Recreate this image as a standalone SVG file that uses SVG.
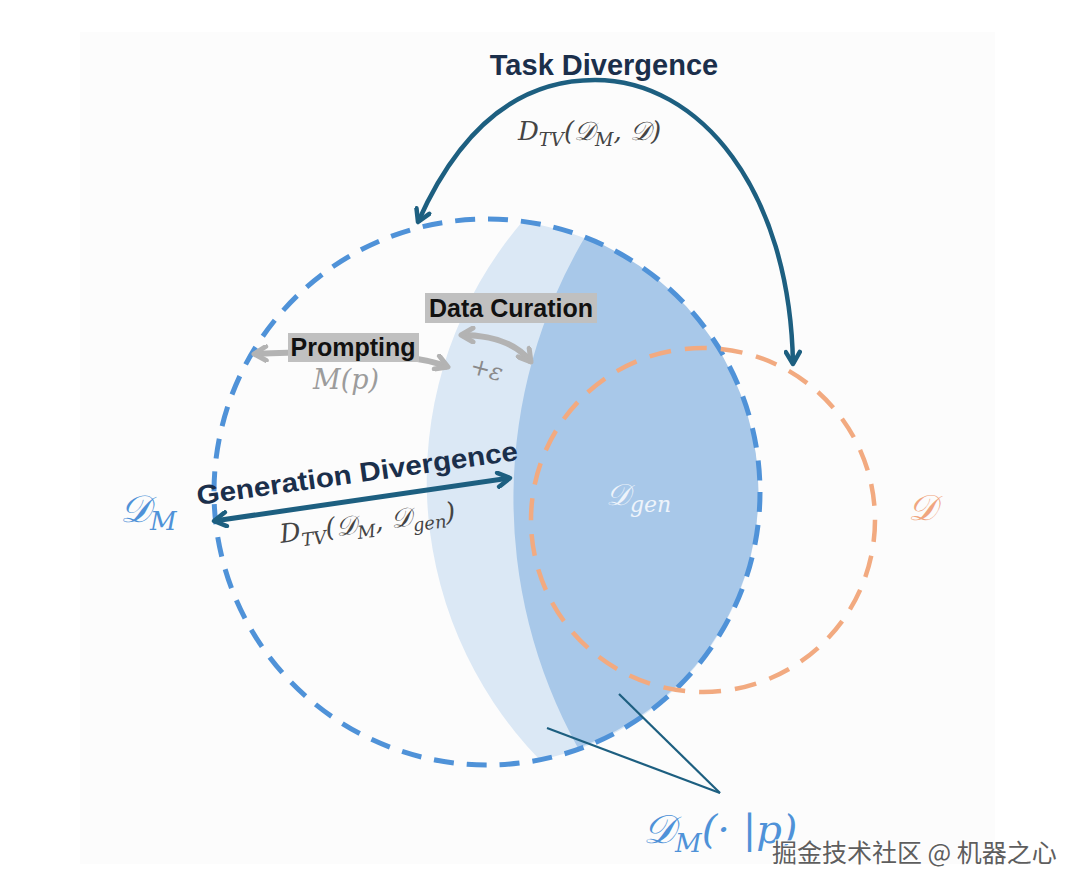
<svg xmlns="http://www.w3.org/2000/svg" width="1080" height="888" viewBox="0 0 1080 888">
<style>
.lbl{font-family:"Liberation Sans",Arial,sans-serif;font-weight:bold}
.math{font-family:"DejaVu Serif","Liberation Serif",serif;font-style:italic}
</style>
<defs>
<marker id="headTeal" viewBox="0 0 20 18" markerWidth="20" markerHeight="18" refX="15" refY="9" orient="auto-start-reverse" markerUnits="userSpaceOnUse">
<path d="M3,2 L15,9 L3,16" fill="none" stroke="#1d5f80" stroke-width="4.5" stroke-linecap="round" stroke-linejoin="round"/>
</marker>
<marker id="headGray" viewBox="0 0 20 18" markerWidth="20" markerHeight="18" refX="15" refY="9" orient="auto-start-reverse" markerUnits="userSpaceOnUse">
<path d="M3,2 L15,9 L3,16" fill="none" stroke="#b3b3b3" stroke-width="5" stroke-linecap="round" stroke-linejoin="round"/>
</marker>
</defs>
<rect x="0" y="0" width="1080" height="888" fill="#ffffff"/>
<rect x="80" y="32" width="915" height="832" fill="#fcfcfc"/>

<g id="regions">
<path id="region-light" d="M522,222 A400,400 0 0 0 540,760 A273,273 0 0 0 522,222 Z" fill="#dbe8f5"/>
<path id="region-dark" d="M585,237 A514,514 0 0 0 578,748 A273,273 0 0 0 585,237 Z" fill="#a8c8e9"/>
</g>

<g id="node-DM">
<circle cx="487" cy="492" r="273" fill="none" stroke="#4f92d8" stroke-width="5" stroke-dasharray="20 13"/>
<text class="math" x="120" y="522" font-size="38" fill="#4f92d8">𝒟<tspan font-size="26" dy="8">M</tspan></text>
</g>

<g id="node-D">
<circle cx="703" cy="520" r="172" fill="none" stroke="#f2aa80" stroke-width="4.5" stroke-dasharray="22 14"/>
<text class="math" x="908" y="520" font-size="36" fill="#f0a680">𝒟</text>
</g>

<g id="node-Dgen">
<text class="math" x="606" y="505" font-size="30" fill="#eef4fb">𝒟<tspan font-size="22" dy="7">gen</tspan></text>
</g>

<g id="connectors">
<path id="task-arrow" d="M418,222 C470,105 540,80 595,80 C700,80 790,190 793,364" fill="none" stroke="#1d5f80" stroke-width="4.5" marker-start="url(#headTeal)" marker-end="url(#headTeal)"/>
<line id="gen-arrow" x1="214" y1="521" x2="510" y2="478" stroke="#1d5f80" stroke-width="5" marker-start="url(#headTeal)" marker-end="url(#headTeal)"/>
<path id="prompt-arrow" d="M254,354 Q400,348 448,367" fill="none" stroke="#b3b3b3" stroke-width="6" marker-start="url(#headGray)" marker-end="url(#headGray)"/>
<path id="curation-arrow" d="M461,335 Q510,335 531,362" fill="none" stroke="#b3b3b3" stroke-width="6" marker-start="url(#headGray)" marker-end="url(#headGray)"/>
<line x1="547" y1="728" x2="720" y2="793" stroke="#1d5f80" stroke-width="2.2"/>
<line x1="619" y1="694" x2="720" y2="793" stroke="#1d5f80" stroke-width="2.2"/>
</g>

<g id="label-task">
<text class="lbl" x="604" y="75" font-size="29" fill="#1b2f4b" text-anchor="middle">Task Divergence</text>
<text class="math" x="518" y="140" font-size="26" fill="#444">D<tspan font-size="18" dy="6">TV</tspan><tspan dy="-6">(𝒟</tspan><tspan font-size="18" dy="6">M</tspan><tspan dy="-6">, 𝒟)</tspan></text>
</g>

<g id="label-gen" transform="rotate(-8 198 505)">
<text class="lbl" x="198" y="505" font-size="27" fill="#1b2f4b" textLength="324" lengthAdjust="spacingAndGlyphs">Generation Divergence</text>
</g>
<g id="label-gen-math" transform="rotate(-7.5 281 543)">
<text class="math" x="281" y="543" font-size="26" fill="#444">D<tspan font-size="18" dy="6">TV</tspan><tspan dy="-6">(𝒟</tspan><tspan font-size="18" dy="6">M</tspan><tspan dy="-6">, 𝒟</tspan><tspan font-size="18" dy="6">gen</tspan><tspan dy="-6">)</tspan></text>
</g>

<g id="label-prompting">
<rect x="288" y="333" width="131" height="29" fill="#c0c0c0"/>
<text class="lbl" x="353" y="356" font-size="25" fill="#111" text-anchor="middle">Prompting</text>
<text class="math" x="313" y="389" font-size="27" fill="#9c9c9c">M(p)</text>
</g>

<g id="label-curation">
<rect x="425" y="293" width="172" height="30" fill="#c0c0c0"/>
<text class="lbl" x="511" y="317" font-size="25" fill="#111" text-anchor="middle">Data Curation</text>
<text class="math" x="470" y="377" font-size="24" fill="#8a8a8a" transform="rotate(15 485 370)">+ε</text>
</g>

<g id="label-DMp">
<text class="math" x="643" y="843" font-size="40" fill="#4f92d8">𝒟<tspan font-size="26" dy="9">M</tspan><tspan dy="-9">(· |p)</tspan></text>
</g>

<text x="772" y="862" font-size="25" font-family="'Noto Sans CJK SC',sans-serif" fill="#5e5e5e" stroke="#ffffff" stroke-width="2" paint-order="stroke">掘金技术社区 @ 机器之心</text>
</svg>
